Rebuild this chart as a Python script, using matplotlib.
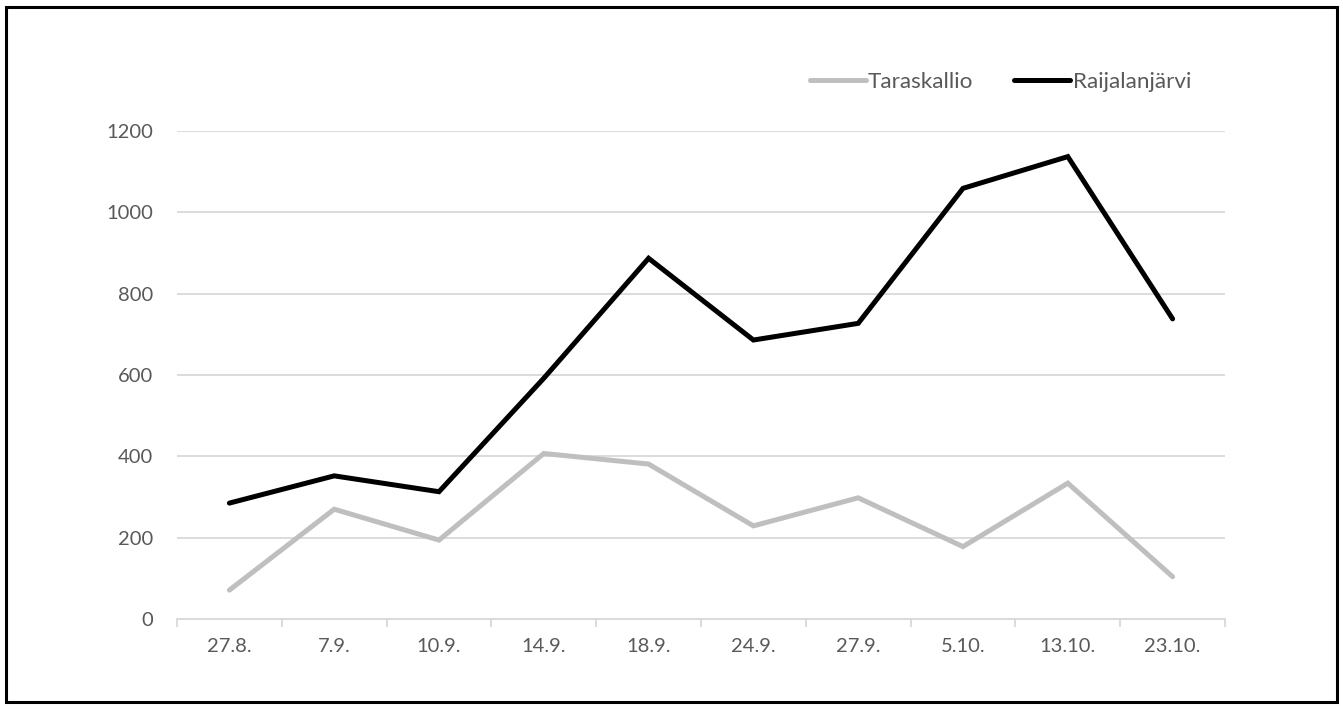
import matplotlib
matplotlib.use("Agg")
import matplotlib.pyplot as plt
from matplotlib.patches import Rectangle

dates = ["27.8.", "7.9.", "10.9.", "14.9.", "18.9.", "24.9.", "27.9.", "5.10.", "13.10.", "23.10."]
taraskallio = [71, 270, 194, 407, 381, 229, 298, 178, 334, 104]
raijalanjarvi = [285, 352, 313, 592, 887, 686, 727, 1059, 1137, 738]
y_ticks = [0, 200, 400, 600, 800, 1000, 1200]

plt.rcParams["font.family"] = ["Lato", "DejaVu Sans"]

W, H, DPI = 1343, 709, 100
fig = plt.figure(figsize=(W / DPI, H / DPI), dpi=DPI)

left, right, bottom, top = 177, 1225, 619, 131
ax = fig.add_axes([left / W, 1 - bottom / H, (right - left) / W, (bottom - top) / H])

xs = list(range(len(dates)))
ax.plot(xs, taraskallio, color="#bfbfbf", lw=3.6, solid_capstyle="round",
        solid_joinstyle="miter", label="Taraskallio", zorder=3)
ax.plot(xs, raijalanjarvi, color="#000000", lw=3.6, solid_capstyle="round",
        solid_joinstyle="miter", label="Raijalanjärvi", zorder=4)

ax.set_xlim(-0.5, len(dates) - 0.5)
ax.set_ylim(0, 1200)
ax.set_yticks(y_ticks)
ax.set_yticklabels([str(v) for v in y_ticks])
ax.set_xticks(xs)
ax.set_xticklabels(dates)
ax.set_xticks([i - 0.5 for i in range(len(dates) + 1)], minor=True)

ax.grid(axis="y", color="#d9d9d9", lw=1.3, zorder=0)
ax.set_axisbelow(True)
for s in ["top", "right", "left"]:
    ax.spines[s].set_visible(False)
ax.spines["bottom"].set_color("#d9d9d9")
ax.spines["bottom"].set_linewidth(1.3)

ax.tick_params(axis="x", which="major", length=0, pad=14, labelsize=14.5, labelcolor="#595959")
ax.tick_params(axis="x", which="minor", length=5.5, width=1.3, color="#d9d9d9")
ax.tick_params(axis="y", length=0, pad=17, labelsize=14.5, labelcolor="#595959")

leg = fig.legend(*ax.get_legend_handles_labels(), loc="center right",
                 bbox_to_anchor=(1191 / W, 1 - 82 / H), bbox_transform=fig.transFigure,
                 ncol=2, frameon=False, fontsize=16.2, handlelength=2.5, handletextpad=0.1,
                 columnspacing=1.8, labelcolor="#595959", borderpad=0, borderaxespad=0)

fig.patches.append(Rectangle((6 / W, 1 - 702 / H), (1337 - 6) / W, (702 - 7) / H,
                             transform=fig.transFigure, fill=False, edgecolor="black",
                             lw=2.2, zorder=10))

fig.savefig("out.png", dpi=DPI, facecolor="white")
